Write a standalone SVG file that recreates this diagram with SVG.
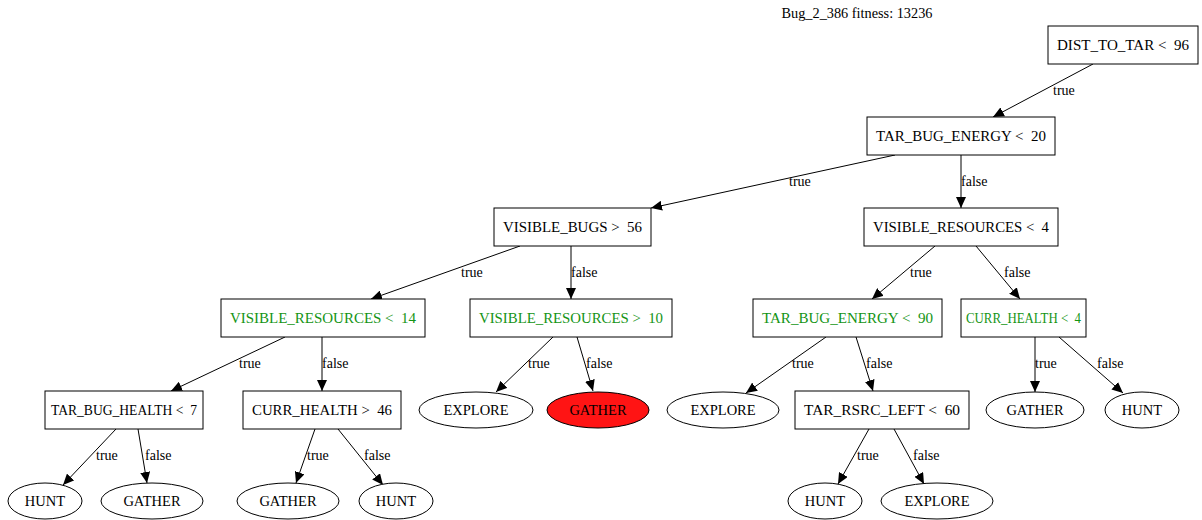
<svg xmlns="http://www.w3.org/2000/svg" width="1202" height="520" viewBox="0 0 1202 520">
<style>
text{font-family:'Liberation Serif','Times New Roman',Times,serif;font-size:14px;fill:#000;white-space:pre}
.n{text-anchor:middle;font-size:14.5px}
.t{text-anchor:middle;font-size:14.3px}
.g{fill:#149414}
.box{fill:#fff;stroke:#000;stroke-width:1}
.ell{fill:#fff;stroke:#000;stroke-width:1}
.red{fill:#ff1414;stroke:#000;stroke-width:1}
.e{stroke:#000;stroke-width:1;fill:none;marker-end:url(#a)}
</style>
<defs>
<marker id="a" markerUnits="userSpaceOnUse" markerWidth="12" markerHeight="10" viewBox="0 0 12 10" refX="11" refY="5" orient="auto">
<path d="M0,0 L11,5 L0,10 Z" fill="#000"/>
</marker>
</defs>
<rect width="1202" height="520" fill="#fff"/>
<text class="t" x="857" y="18">Bug_2_386 fitness: 13236</text>
<g id="edges">
<line class="e" x1="1093" y1="64" x2="993" y2="117"/>
<line class="e" x1="895" y1="155" x2="651" y2="208"/>
<line class="e" x1="961" y1="155" x2="961" y2="208"/>
<line class="e" x1="520" y1="246" x2="371" y2="299"/>
<line class="e" x1="571" y1="246" x2="571" y2="299"/>
<line class="e" x1="935" y1="246" x2="872" y2="299"/>
<line class="e" x1="976" y1="246" x2="1020" y2="299"/>
<line class="e" x1="285" y1="337" x2="171" y2="391"/>
<line class="e" x1="322" y1="337" x2="322" y2="391"/>
<line class="e" x1="553" y1="337" x2="496" y2="392"/>
<line class="e" x1="577" y1="337" x2="593" y2="391"/>
<line class="e" x1="826" y1="337" x2="746" y2="393"/>
<line class="e" x1="856" y1="337" x2="873" y2="391"/>
<line class="e" x1="1035" y1="337" x2="1035" y2="392"/>
<line class="e" x1="1059" y1="337" x2="1123" y2="393"/>
<line class="e" x1="116" y1="429" x2="63" y2="485"/>
<line class="e" x1="138" y1="429" x2="147" y2="483"/>
<line class="e" x1="315" y1="429" x2="296" y2="483"/>
<line class="e" x1="338" y1="429" x2="383" y2="485"/>
<line class="e" x1="869" y1="429" x2="838" y2="484"/>
<line class="e" x1="894" y1="429" x2="924" y2="484"/>
<text x="1053" y="95">true</text>
<text x="789" y="186">true</text>
<text x="961" y="186">false</text>
<text x="461" y="277">true</text>
<text x="571" y="277">false</text>
<text x="910" y="277">true</text>
<text x="1004" y="277">false</text>
<text x="239" y="368">true</text>
<text x="322" y="368">false</text>
<text x="528" y="368">true</text>
<text x="586" y="368">false</text>
<text x="792" y="368">true</text>
<text x="866" y="368">false</text>
<text x="1035" y="368">true</text>
<text x="1097" y="368">false</text>
<text x="96" y="460">true</text>
<text x="145" y="460">false</text>
<text x="307" y="460">true</text>
<text x="364" y="460">false</text>
<text x="857" y="460">true</text>
<text x="913" y="460">false</text>
</g>
<g id="n1"><rect class="box" x="1048" y="26" width="150" height="38"/><text class="n" x="1123" y="50" textLength="132" lengthAdjust="spacingAndGlyphs">DIST_TO_TAR &lt;  96</text></g>
<g id="n2"><rect class="box" x="867" y="117" width="188" height="38"/><text class="n" x="961" y="141" textLength="170" lengthAdjust="spacingAndGlyphs">TAR_BUG_ENERGY &lt;  20</text></g>
<g id="n3"><rect class="box" x="494" y="208" width="157" height="38"/><text class="n" x="572.5" y="232" textLength="139" lengthAdjust="spacingAndGlyphs">VISIBLE_BUGS &gt;  56</text></g>
<g id="n4"><rect class="box" x="864" y="208" width="194" height="38"/><text class="n" x="961" y="232" textLength="176" lengthAdjust="spacingAndGlyphs">VISIBLE_RESOURCES &lt;  4</text></g>
<g id="n5"><rect class="box" x="221" y="299" width="204" height="38"/><text class="n g" x="323" y="323" textLength="186" lengthAdjust="spacingAndGlyphs">VISIBLE_RESOURCES &lt;  14</text></g>
<g id="n6"><rect class="box" x="470" y="299" width="202" height="38"/><text class="n g" x="571" y="323" textLength="184" lengthAdjust="spacingAndGlyphs">VISIBLE_RESOURCES &gt;  10</text></g>
<g id="n7"><rect class="box" x="753" y="299" width="189" height="38"/><text class="n g" x="847.5" y="323" textLength="171" lengthAdjust="spacingAndGlyphs">TAR_BUG_ENERGY &lt;  90</text></g>
<g id="n8"><rect class="box" x="961" y="299" width="125" height="38"/><text class="n g" x="1023.5" y="323" textLength="115" lengthAdjust="spacingAndGlyphs">CURR_HEALTH &lt;  4</text></g>
<g id="n9"><rect class="box" x="45" y="391" width="158" height="38"/><text class="n" x="124" y="415" textLength="146" lengthAdjust="spacingAndGlyphs">TAR_BUG_HEALTH &lt;  7</text></g>
<g id="n10"><rect class="box" x="243" y="391" width="158" height="38"/><text class="n" x="322" y="415" textLength="140" lengthAdjust="spacingAndGlyphs">CURR_HEALTH &gt;  46</text></g>
<g id="n11"><ellipse class="ell" cx="476" cy="410" rx="57" ry="18"/><text class="n" x="476" y="415">EXPLORE</text></g>
<g id="n12"><ellipse class="red" cx="598" cy="410" rx="51" ry="18"/><text class="n" x="598" y="415">GATHER</text></g>
<g id="n13"><ellipse class="ell" cx="723" cy="410" rx="56" ry="18"/><text class="n" x="723" y="415">EXPLORE</text></g>
<g id="n14"><rect class="box" x="795" y="391" width="174" height="38"/><text class="n" x="882" y="415" textLength="156" lengthAdjust="spacingAndGlyphs">TAR_RSRC_LEFT &lt;  60</text></g>
<g id="n15"><ellipse class="ell" cx="1035" cy="410" rx="49" ry="18"/><text class="n" x="1035" y="415">GATHER</text></g>
<g id="n16"><ellipse class="ell" cx="1142" cy="410" rx="37" ry="18"/><text class="n" x="1142" y="415">HUNT</text></g>
<g id="n17"><ellipse class="ell" cx="45" cy="501" rx="37" ry="18"/><text class="n" x="45" y="506">HUNT</text></g>
<g id="n18"><ellipse class="ell" cx="152" cy="501" rx="51" ry="18"/><text class="n" x="152" y="506">GATHER</text></g>
<g id="n19"><ellipse class="ell" cx="288" cy="501" rx="51" ry="18"/><text class="n" x="288" y="506">GATHER</text></g>
<g id="n20"><ellipse class="ell" cx="396" cy="501" rx="37" ry="18"/><text class="n" x="396" y="506">HUNT</text></g>
<g id="n21"><ellipse class="ell" cx="825" cy="501" rx="37" ry="18"/><text class="n" x="825" y="506">HUNT</text></g>
<g id="n22"><ellipse class="ell" cx="937" cy="501" rx="56" ry="18"/><text class="n" x="937" y="506">EXPLORE</text></g>
</svg>
